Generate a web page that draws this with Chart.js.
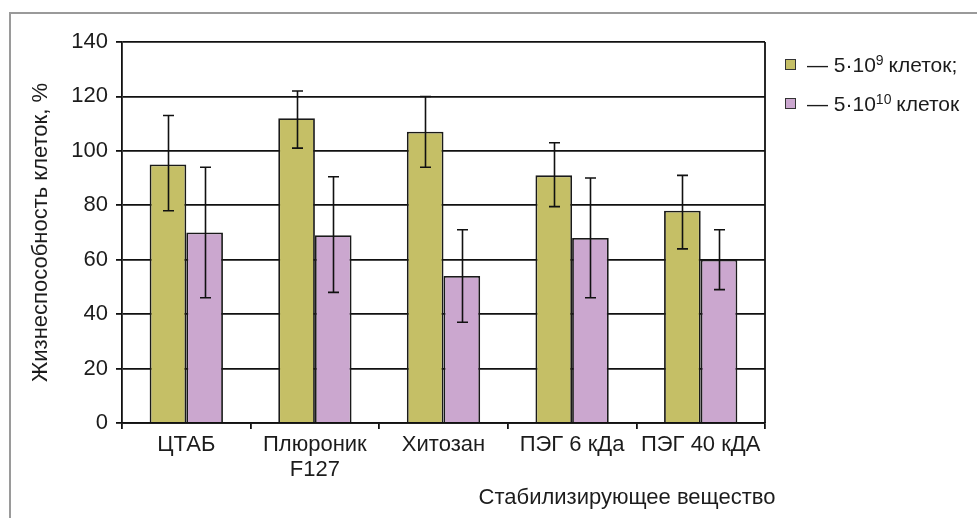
<!DOCTYPE html>
<html>
<head>
<meta charset="utf-8">
<script src="https://cdn.jsdelivr.net/npm/chart.js@4"></script>
<style>
    html, body { margin: 0; padding: 0; background: #fff; }
    canvas { display: block; }
</style>
</head>
<body>
<canvas id="myChart" width="977" height="518"></canvas>
<script>
const categories = ['ЦТАБ', ['Плюроник', 'F127'], 'Хитозан', 'ПЭГ 6 кДа', 'ПЭГ 40 кДА'];

// 5·10^9 cells
const cells9 = [95, 112, 107, 91, 78];
const cells9Low = [78, 101, 94, 79.5, 64];
const cells9High = [113, 122, 120, 103, 91];

// 5·10^10 cells
const cells10 = [70, 69, 54, 68, 60];
const cells10Low = [46, 48, 37, 46, 49];
const cells10High = [94, 90.5, 71, 90, 71];

const yTicks = [0, 20, 40, 60, 80, 100, 120, 140];

const FONT = "'Liberation Sans', Arial, sans-serif";
const TEXT = '#1c1c1c';
const yellow = '#c5bf66';
const purple = '#cba7cf';

// grey frame round the figure
const framePlugin = {
    id: 'frame',
    beforeDraw(chart) {
        const ctx = chart.ctx;
        ctx.save();
        ctx.strokeStyle = '#9a9a9a';
        ctx.lineWidth = 2;
        ctx.beginPath();
        ctx.moveTo(10, 518);
        ctx.lineTo(10, 13);
        ctx.lineTo(977, 13);
        ctx.stroke();
        ctx.restore();
    }
};

// error bars, right border, x title, legend
const extrasPlugin = {
    id: 'extras',
    afterDatasetsDraw(chart) {
        const ctx = chart.ctx;
        const y = chart.scales.y;
        const lows = [cells9Low, cells10Low];
        const highs = [cells9High, cells10High];
        ctx.save();
        ctx.strokeStyle = '#111';
        ctx.lineWidth = 1.6;
        chart.data.datasets.forEach((ds, di) => {
            chart.getDatasetMeta(di).data.forEach((bar, i) => {
                const x = Math.round(bar.x) + 0.5;
                const yl = y.getPixelForValue(lows[di][i]);
                const yh = y.getPixelForValue(highs[di][i]);
                ctx.beginPath();
                ctx.moveTo(x, yl);
                ctx.lineTo(x, yh);
                ctx.moveTo(x - 5.5, yl);
                ctx.lineTo(x + 5.5, yl);
                ctx.moveTo(x - 5.5, yh);
                ctx.lineTo(x + 5.5, yh);
                ctx.stroke();
            });
        });
        ctx.restore();
    },
    afterDraw(chart) {
        const ctx = chart.ctx;
        const a = chart.chartArea;
        ctx.save();
        ctx.strokeStyle = '#111';
        ctx.lineWidth = 1.8;
        ctx.beginPath();
        ctx.moveTo(a.right, a.top);
        ctx.lineTo(a.right, a.bottom);
        ctx.stroke();

        ctx.fillStyle = TEXT;
        ctx.font = '22px ' + FONT;
        ctx.textAlign = 'center';
        ctx.textBaseline = 'middle';
        ctx.fillText('Стабилизирующее вещество', 627, 498);

        // legend
        const items = [
            { color: yellow, sup: '9', tail: ' клеток;' },
            { color: purple, sup: '10', tail: ' клеток' }
        ];
        items.forEach((it, i) => {
            const cy = 64.5 + i * 39;
            ctx.fillStyle = it.color;
            ctx.fillRect(785, cy - 5.5, 11, 11);
            ctx.strokeStyle = '#333';
            ctx.lineWidth = 1;
            ctx.strokeRect(785.5, cy - 5, 10, 10);

            ctx.fillStyle = TEXT;
            ctx.textAlign = 'left';
            ctx.textBaseline = 'alphabetic';
            ctx.font = '21px ' + FONT;
            let x = 807;
            const base = cy + 7.5;
            const head = '— 5·10';
            ctx.fillText(head, x, base);
            x += ctx.measureText(head).width;
            ctx.font = '14px ' + FONT;
            ctx.fillText(it.sup, x, base - 7);
            x += ctx.measureText(it.sup).width - 1;
            ctx.font = '21px ' + FONT;
            ctx.fillText(it.tail, x, base);
        });
        ctx.restore();
    }
};

const ctx = document.getElementById('myChart').getContext('2d');

new Chart(ctx, {
    type: 'bar',
    data: {
        labels: categories,
        datasets: [
            {
                label: '5·10⁹ клеток',
                data: cells9,
                backgroundColor: yellow,
                borderColor: '#1a1a1a',
                borderWidth: 1.8,
                borderSkipped: 'bottom'
            },
            {
                label: '5·10¹⁰ клеток',
                data: cells10,
                backgroundColor: purple,
                borderColor: '#1a1a1a',
                borderWidth: 1.8,
                borderSkipped: 'bottom'
            }
        ]
    },
    options: {
        responsive: false,
        animation: false,
        devicePixelRatio: 1,
        layout: { padding: { top: 42, right: 212, left: 0, bottom: 0 } },
        datasets: {
            bar: { categoryPercentage: 0.57, barPercentage: 1.0 }
        },
        plugins: {
            legend: { display: false },
            tooltip: { enabled: false }
        },
        scales: {
            x: {
                afterFit: (s) => { s.height = 95; },
                grid: {
                    offset: true,
                    drawOnChartArea: false,
                    color: '#111',
                    lineWidth: 1.8,
                    tickLength: 6
                },
                border: { color: '#111', width: 1.8 },
                ticks: {
                    color: TEXT,
                    padding: 3,
                    maxRotation: 0,
                    font: { family: FONT, size: 22, lineHeight: 1.15 }
                }
            },
            y: {
                min: 0,
                max: 140,
                afterFit: (s) => { s.width = 122; },
                afterBuildTicks: (s) => { s.ticks = yTicks.map(v => ({ value: v })); },
                grid: {
                    color: '#111',
                    lineWidth: 1.8,
                    tickLength: 6
                },
                border: { color: '#111', width: 1.8 },
                ticks: {
                    color: TEXT,
                    padding: 8,
                    font: { family: FONT, size: 22 }
                },
                title: {
                    display: true,
                    text: 'Жизнеспособность клеток, %',
                    color: TEXT,
                    font: { family: FONT, size: 22 },
                    padding: { top: 28, bottom: 0 }
                }
            }
        }
    },
    plugins: [framePlugin, extrasPlugin]
});
</script>
</body>
</html>
